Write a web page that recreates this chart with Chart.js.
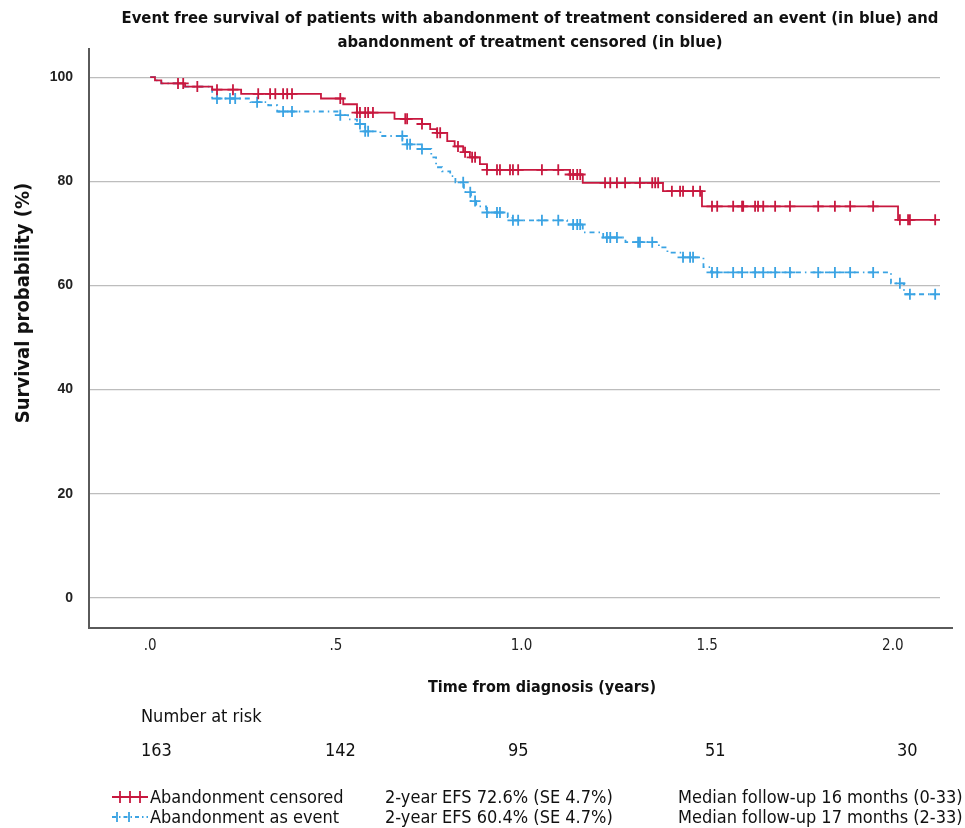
<!DOCTYPE html>
<html><head><meta charset="utf-8">
<script src="https://cdn.jsdelivr.net/npm/chart.js@4.4.0/dist/chart.umd.min.js"></script>
<style>
html,body{margin:0;padding:0;background:#fff;}
#wrap{position:relative;width:965px;height:828px;overflow:hidden;background:#fff;}
#c{position:absolute;left:0;top:0;}
.t{position:absolute;font-family:"Liberation Sans Narrow","Arial Narrow","DejaVu Sans Condensed",sans-serif;color:#111;white-space:nowrap;line-height:24px;font-size:18px;}
.b{font-weight:bold;}
</style></head><body>
<div id="wrap">
<canvas id="c" width="965" height="828"></canvas>
<div class="t b" style="left:100px;top:6px;width:860px;text-align:center;font-size:16.5px;">Event free survival of patients with abandonment of treatment considered an event (in blue) and<br>abandonment of treatment censored (in blue)</div>
<div class="t b" style="left:-128px;top:291px;width:300px;text-align:center;font-size:20px;transform:rotate(-90deg);">Survival probability (%)</div>
<div class="t b" style="left:342px;top:675px;width:400px;text-align:center;font-size:16px;">Time from diagnosis (years)</div>
<div class="t" style="left:141px;top:704px;">Number at risk</div>
<div id="risk"></div>
<div id="legend"></div>
</div>
<script>
// ---- data ----
const xTickValues = [0, 0.5, 1.0, 1.5, 2.0];
const yTickValues = [0, 20, 40, 60, 80, 100];

const redEventTimes = [0.013, 0.03, 0.094, 0.167, 0.245, 0.46, 0.52, 0.557, 0.658, 0.732, 0.754, 0.772, 0.80, 0.82, 0.843, 0.861, 0.888, 0.907, 1.13, 1.165, 1.381, 1.486, 2.014];
const redEventSurv  = [99.4, 98.8, 98.2, 97.6, 96.8, 95.9, 94.8, 93.2, 92.0, 91.0, 90.0, 89.3, 87.7, 86.7, 85.6, 84.6, 83.3, 82.2, 81.3, 79.7, 78.1, 75.2, 72.6];
const redCensorTimes = [0.075, 0.089, 0.127, 0.180, 0.223, 0.291, 0.323, 0.337, 0.358, 0.369, 0.382, 0.512, 0.557, 0.565, 0.579, 0.587, 0.600, 0.687, 0.692, 0.732, 0.773, 0.781, 0.829, 0.848, 0.867, 0.875, 0.907, 0.934, 0.942, 0.969, 0.977, 0.991, 1.055, 1.099, 1.131, 1.139, 1.150, 1.158, 1.225, 1.239, 1.257, 1.279, 1.319, 1.352, 1.360, 1.368, 1.405, 1.427, 1.435, 1.462, 1.481, 1.513, 1.527, 1.570, 1.594, 1.597, 1.629, 1.637, 1.651, 1.683, 1.723, 1.799, 1.844, 1.885, 1.947, 2.019, 2.041, 2.046, 2.114];

const blueEventTimes = [0.013, 0.03, 0.094, 0.167, 0.27, 0.318, 0.342, 0.512, 0.533, 0.557, 0.579, 0.62, 0.68, 0.692, 0.732, 0.757, 0.770, 0.786, 0.808, 0.822, 0.845, 0.864, 0.878, 0.905, 0.963, 0.975, 1.123, 1.165, 1.22, 1.28, 1.37, 1.393, 1.435, 1.49, 1.51, 1.995, 2.03];
const blueEventSurv  = [99.4, 98.8, 98.2, 95.9, 95.2, 94.6, 93.4, 92.7, 91.9, 91.0, 89.6, 88.7, 88.1, 87.1, 86.2, 84.6, 82.7, 81.9, 81.0, 79.8, 77.9, 76.2, 75.2, 74.0, 73.1, 72.5, 71.7, 70.2, 69.2, 68.3, 67.3, 66.3, 65.4, 63.5, 62.5, 60.4, 58.3];
const blueCensorTimes = [0.180, 0.215, 0.229, 0.288, 0.358, 0.382, 0.512, 0.565, 0.579, 0.587, 0.679, 0.692, 0.700, 0.732, 0.843, 0.862, 0.875, 0.907, 0.934, 0.942, 0.977, 0.991, 1.055, 1.099, 1.139, 1.150, 1.158, 1.230, 1.239, 1.257, 1.314, 1.319, 1.352, 1.435, 1.454, 1.462, 1.513, 1.527, 1.570, 1.594, 1.629, 1.651, 1.683, 1.723, 1.799, 1.844, 1.885, 1.947, 2.019, 2.046, 2.114];

const followEnd = 2.114;
const riskCounts = [163, 142, 95, 51, 30];

const seriesNames = ["Abandonment censored", "Abandonment as event"];
const efsText = ["2-year EFS 72.6% (SE 4.7%)", "2-year EFS 60.4% (SE 4.7%)"];
const followText = ["Median follow-up 16 months (0-33)", "Median follow-up 17 months (2-33)"];

// ---- helpers ----
function survAt(times, surv, t) {
  let s = 100;
  for (let i = 0; i < times.length; i++) { if (times[i] <= t + 1e-9) s = surv[i]; else break; }
  return s;
}
function curve(times, surv, end) {
  const pts = [{x: 0, y: 100}];
  times.forEach((t, i) => pts.push({x: t, y: surv[i]}));
  pts.push({x: end, y: surv[surv.length - 1]});
  return pts;
}
function marks(ct, times, surv) { return ct.map(t => ({x: t, y: survAt(times, surv, t)})); }

const RED = '#c8183f', BLUE = '#3aa3e3';
const axisLines = {
  id: 'axisLines',
  afterDraw(chart) {
    const {ctx, chartArea: a} = chart;
    ctx.save();
    ctx.strokeStyle = '#5a5a5a'; ctx.lineWidth = 2;
    ctx.beginPath();
    ctx.moveTo(a.left - 1, a.top); ctx.lineTo(a.left - 1, a.bottom);
    ctx.lineTo(a.right + 13, a.bottom);
    ctx.stroke();
    ctx.restore();
  }
};

const chart = new Chart(document.getElementById('c'), {
  type: 'line',
  data: {
    datasets: [
      {data: curve(redEventTimes, redEventSurv, followEnd), borderColor: RED, borderWidth: 1.8, stepped: true, pointRadius: 0, fill: false, order: 2},
      {data: marks(redCensorTimes, redEventTimes, redEventSurv), showLine: false, pointStyle: 'cross', pointRadius: 5.5, borderColor: RED, borderWidth: 1.8, order: 1},
      {data: curve(blueEventTimes, blueEventSurv, followEnd), borderColor: BLUE, borderWidth: 1.8, borderDash: [5, 4, 1.5, 4], stepped: true, pointRadius: 0, fill: false, order: 4},
      {data: marks(blueCensorTimes, blueEventTimes, blueEventSurv), showLine: false, pointStyle: 'cross', pointRadius: 5.5, borderColor: BLUE, borderWidth: 1.8, order: 3}
    ]
  },
  options: {
    responsive: false, animation: false,
    layout: {padding: {left: 0, right: 25, top: 48, bottom: 160}},
    plugins: {legend: {display: false}, tooltip: {enabled: false}, title: {display: false}},
    scales: {
      x: {
        type: 'linear', min: -0.162, max: 2.127,
        afterBuildTicks: s => { s.ticks = xTickValues.map(v => ({value: v})); },
        afterFit: s => { s.height = 40; },
        grid: {display: false, drawTicks: false}, border: {display: false},
        ticks: {padding: 9, color: '#222', font: {family: '"Liberation Sans Narrow","DejaVu Sans Condensed",sans-serif', size: 15},
          callback: v => v.toFixed(1).replace(/^0/, '')}
      },
      y: {
        min: -5.8, max: 105.6,
        afterBuildTicks: s => { s.ticks = yTickValues.map(v => ({value: v})); },
        afterFit: s => { s.width = 90; },
        grid: {color: '#bdbdbd', lineWidth: 1.2, drawTicks: false}, border: {display: false},
        ticks: {padding: 17, color: '#222', font: {family: '"Liberation Sans",Arial,sans-serif', size: 14, weight: 'bold'}}
      }
    }
  },
  plugins: [axisLines]
});

// ---- number at risk row ----
const riskLeft = [141, 325, 508, 705, 897];
const risk = document.getElementById('risk');
riskCounts.forEach((n, i) => {
  const d = document.createElement('div');
  d.className = 't'; d.style.left = riskLeft[i] + 'px'; d.style.top = '738px';
  d.textContent = String(n); risk.appendChild(d);
});

// ---- bottom legend ----
const lg = document.getElementById('legend');
const icons = [
  '<svg width="40" height="16"><line x1="2" y1="8" x2="38" y2="8" stroke="' + RED + '" stroke-width="1.8"/><g stroke="' + RED + '" stroke-width="1.8"><line x1="10" y1="2" x2="10" y2="14"/><line x1="20" y1="2" x2="20" y2="14"/><line x1="30" y1="2" x2="30" y2="14"/></g></svg>',
  '<svg width="40" height="16"><line x1="2" y1="8" x2="38" y2="8" stroke="' + BLUE + '" stroke-width="1.8" stroke-dasharray="4,3,1.5,3"/><g stroke="' + BLUE + '" stroke-width="1.8"><line x1="7" y1="3" x2="7" y2="13"/><line x1="19" y1="3" x2="19" y2="13"/></g></svg>'
];
[0, 1].forEach(i => {
  const top = 785 + i * 20;
  const ic = document.createElement('div');
  ic.style.cssText = 'position:absolute;left:110px;top:' + (top + 4) + 'px;';
  ic.innerHTML = icons[i]; lg.appendChild(ic);
  [[150, seriesNames[i]], [385, efsText[i]], [678, followText[i]]].forEach(([l, txt]) => {
    const d = document.createElement('div');
    d.className = 't'; d.style.left = l + 'px'; d.style.top = top + 'px';
    d.textContent = txt; lg.appendChild(d);
  });
});
</script>
</body></html>
